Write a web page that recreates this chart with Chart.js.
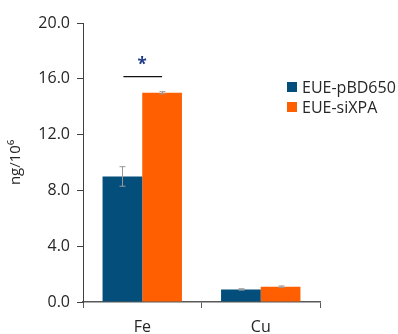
<!DOCTYPE html>
<html>
<head>
<meta charset="utf-8">
<script src="https://cdn.jsdelivr.net/npm/chart.js@4"></script>
<style>
  html, body { margin: 0; padding: 0; background: #fff; }
  #box { width: 398px; height: 334px; }
</style>
</head>
<body>
<div id="box"><canvas id="grafico"></canvas></div>
<script>
// dados
var categorias = ['Fe', 'Cu'];
var nomesSeries = ['EUE-pBD650', 'EUE-siXPA'];
var valoresPBD = [9.0, 0.9];
var valoresSiXPA = [15.0, 1.1];
var errosPBD = [0.7, 0.05];
var errosSiXPA = [0.08, 0.05];
var ticksY = [0, 4, 8, 12, 16, 20];

var corAzul = '#034E7B';
var corLaranja = '#FF5F00';
var fonte = "'Open Sans', 'DejaVu Sans', sans-serif";

// barras de erro (desenha depois das barras)
var pluginErros = {
  id: 'erros',
  afterDatasetsDraw: function(chart) {
    var ctx = chart.ctx;
    var y = chart.scales.y;
    ctx.save();
    ctx.strokeStyle = '#999';
    ctx.lineWidth = 1;
    chart.data.datasets.forEach(function(ds, i) {
      var meta = chart.getDatasetMeta(i);
      meta.data.forEach(function(barra, j) {
        var v = ds.data[j];
        var e = ds.erros[j];
        var topo = y.getPixelForValue(v + e);
        var baixo = y.getPixelForValue(v - e);
        var x = Math.round(barra.x) + 0.5;
        ctx.beginPath();
        ctx.moveTo(x, topo);
        ctx.lineTo(x, baixo);
        ctx.moveTo(x - 3, topo);
        ctx.lineTo(x + 3, topo);
        ctx.moveTo(x - 3, baixo);
        ctx.lineTo(x + 3, baixo);
        ctx.stroke();
      });
    });
    ctx.restore();
  }
};

// linha do asterisco em cima do Fe
var pluginSignificancia = {
  id: 'significancia',
  afterDatasetsDraw: function(chart) {
    var ctx = chart.ctx;
    var y = chart.scales.y;
    var b1 = chart.getDatasetMeta(0).data[0];
    var b2 = chart.getDatasetMeta(1).data[0];
    var yLinha = y.getPixelForValue(16.15);
    ctx.save();
    ctx.strokeStyle = '#111';
    ctx.lineWidth = 1.3;
    ctx.beginPath();
    ctx.moveTo(b1.x + 1, yLinha);
    ctx.lineTo(b2.x, yLinha);
    ctx.stroke();
    ctx.fillStyle = '#1F3A8A';
    ctx.font = 'bold 17px ' + fonte;
    ctx.textAlign = 'center';
    ctx.textBaseline = 'middle';
    ctx.fillText('*', (b1.x + b2.x) / 2, y.getPixelForValue(16.95));
    ctx.restore();
  }
};

// legenda desenhada na mao pq fica por cima da area
var pluginLegenda = {
  id: 'legendaManual',
  afterDraw: function(chart) {
    var ctx = chart.ctx;
    ctx.save();
    ctx.font = '16px ' + fonte;
    ctx.textBaseline = 'middle';
    ctx.textAlign = 'left';
    chart.data.datasets.forEach(function(ds, i) {
      var yc = 87 + i * 20;
      ctx.fillStyle = ds.backgroundColor;
      ctx.fillRect(287, yc - 5, 10, 10);
      ctx.fillStyle = '#262626';
      ctx.fillText(ds.label, 302, yc + 1);
    });
    ctx.restore();
  }
};

new Chart(document.getElementById('grafico'), {
  type: 'bar',
  data: {
    labels: categorias,
    datasets: [
      { label: nomesSeries[0], data: valoresPBD, erros: errosPBD, backgroundColor: corAzul },
      { label: nomesSeries[1], data: valoresSiXPA, erros: errosSiXPA, backgroundColor: corLaranja }
    ]
  },
  options: {
    responsive: true,
    maintainAspectRatio: false,
    animation: false,
    categoryPercentage: 0.67,
    barPercentage: 1.0,
    layout: { padding: { left: 0, right: 78, top: 23, bottom: 0 } },
    plugins: {
      legend: { display: false },
      tooltip: { enabled: false }
    },
    scales: {
      x: {
        grid: { display: true, drawOnChartArea: false, offset: true, tickLength: 6, color: '#595959' },
        border: { color: '#595959', width: 1.5 },
        ticks: { color: '#262626', font: { family: fonte, size: 16 }, padding: 10 },
        afterFit: function(s) { s.height = 32; }
      },
      y: {
        min: 0,
        max: 20,
        afterBuildTicks: function(s) {
          s.ticks = ticksY.map(function(v) { return { value: v }; });
        },
        grid: { display: true, drawOnChartArea: false, tickLength: 6, color: '#404040' },
        border: { color: '#404040', width: 1 },
        ticks: {
          color: '#262626',
          font: { family: fonte, size: 16 },
          padding: 7,
          callback: function(v) { return v.toFixed(1); }
        },
        title: {
          display: true,
          text: 'ng/10\u2076',
          color: '#262626',
          font: { family: fonte, size: 15 },
          padding: { top: 7, bottom: 0 }
        },
        afterFit: function(s) { s.width = 83; }
      }
    }
  },
  plugins: [pluginErros, pluginSignificancia, pluginLegenda]
});
</script>
</body>
</html>
